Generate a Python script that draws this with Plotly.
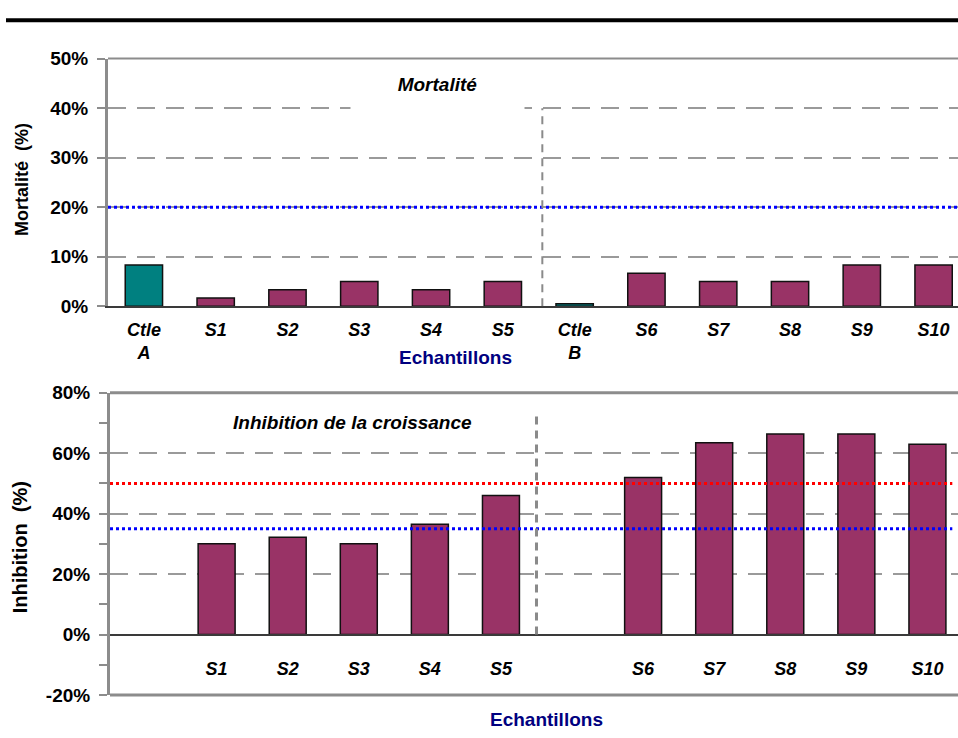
import plotly.graph_objects as go

# ---- data -------------------------------------------------------------
categories = ["Ctle A", "S1", "S2", "S3", "S4", "S5",
              "Ctle B", "S6", "S7", "S8", "S9", "S10"]
mortality_tick_labels = ["Ctle<br>A", "S1", "S2", "S3", "S4", "S5",
                         "Ctle<br>B", "S6", "S7", "S8", "S9", "S10"]
inhibition_tick_labels = ["", "S1", "S2", "S3", "S4", "S5",
                          "", "S6", "S7", "S8", "S9", "S10"]
mortality = [8.33, 1.67, 3.33, 5.0, 3.33, 5.0, 0.5, 6.67, 5.0, 5.0, 8.33, 8.33]
inhibition = [None, 30.0, 32.2, 30.0, 36.5, 46.0, None, 52.0, 63.5, 66.4, 66.4, 63.0]
is_control = [True, False, False, False, False, False,
              True, False, False, False, False, False]

mortality_ticks = [0, 10, 20, 30, 40, 50]
mortality_tick_text = ["0%", "10%", "20%", "30%", "40%", "50%"]
inhibition_ticks = [-20, 0, 20, 40, 60, 80]
inhibition_tick_text = ["-20%", "0%", "20%", "40%", "60%", "80%"]
mortality_threshold = 20
inhibition_thresholds = [(50, "#ff0000"), (35, "#0000ff")]

# ---- styling ----------------------------------------------------------
FONT = "Liberation Sans, Arial, sans-serif"
BAR = "#993366"
CTRL = "#008080"
GRID = "#9a9a9a"
AXIS = "#8c8c8c"
W, H = 958, 738

x_idx = list(range(len(categories)))
colors = [CTRL if c else BAR for c in is_control]


def py(px):
    """pixel row -> paper y"""
    return 1 - px / H


def pxx(px):
    return px / W


top_dom = [py(305), py(50)]
bot_dom = [py(705), py(394)]

fig = go.Figure()

fig.add_trace(go.Bar(
    x=x_idx, y=mortality, width=0.52,
    marker=dict(color=colors, line=dict(color="#111111", width=1.5)),
    xaxis="x", yaxis="y", showlegend=False, hoverinfo="skip"))

fig.add_trace(go.Bar(
    x=x_idx, y=inhibition, width=0.52,
    marker=dict(color=BAR, line=dict(color="#111111", width=1.5)),
    xaxis="x2", yaxis="y2", showlegend=False, hoverinfo="skip"))

tickfont_y = dict(family=FONT, size=19, color="#000000", weight="bold")
tickfont_x = dict(family=FONT, size=18, color="#000000", weight="bold", style="italic")

zero_pos = bot_dom[0] + (0 - (-20)) / 100 * (bot_dom[1] - bot_dom[0])

fig.update_layout(
    width=W, height=H,
    margin=dict(l=0, r=0, t=0, b=0),
    paper_bgcolor="white", plot_bgcolor="white",
    bargap=0.48,
    xaxis=dict(domain=[pxx(108), 1], range=[-0.5, 11.34],
               tickvals=x_idx, ticktext=mortality_tick_labels,
               tickfont=tickfont_x, showgrid=False, zeroline=False,
               showline=True, linecolor="#3a3a3a", linewidth=2,
               ticks="", ticklabelstandoff=6,
               anchor="y", fixedrange=True),
    yaxis=dict(domain=top_dom, range=[0, 50],
               tickvals=mortality_ticks, ticktext=mortality_tick_text,
               tickfont=tickfont_y, showgrid=True, gridcolor=GRID,
               gridwidth=2, griddash="18px,11px", zeroline=False,
               showline=True, linecolor=AXIS, linewidth=3,
               ticks="outside", ticklen=8, tickwidth=2, tickcolor=AXIS,
               ticklabelstandoff=5, anchor="x", fixedrange=True),
    xaxis2=dict(domain=[pxx(110), 1], range=[-0.5, 11.43],
                tickvals=x_idx, ticktext=inhibition_tick_labels,
                tickfont=tickfont_x, showgrid=False, zeroline=False,
                showline=True, linecolor="#3a3a3a", linewidth=2,
                ticks="", anchor="free", position=zero_pos,
                ticklabelstandoff=18, fixedrange=True),
    yaxis2=dict(domain=bot_dom, range=[-20, 80],
                tickvals=inhibition_ticks, ticktext=inhibition_tick_text,
                tickfont=tickfont_y, showgrid=True, gridcolor=GRID,
                gridwidth=2, griddash="18px,11px", zeroline=False,
                showline=True, linecolor=AXIS, linewidth=3,
                ticks="outside", ticklen=8, tickwidth=2, tickcolor=AXIS,
                minor=dict(dtick=10, ticks="outside", ticklen=8,
                           tickwidth=2, tickcolor=AXIS, showgrid=False),
                ticklabelstandoff=5, anchor="x2", fixedrange=True),
)

shapes = []
# heavy rule across the top of the page
shapes.append(dict(type="line", xref="paper", yref="paper",
                   x0=pxx(6), x1=1, y0=py(10.5), y1=py(10.5),
                   line=dict(color="#000000", width=4)))
# frame lines of both panels
shapes.append(dict(type="line", xref="x domain", yref="y domain",
                   x0=0, x1=1, y0=1, y1=1, line=dict(color=AXIS, width=2)))
shapes.append(dict(type="line", xref="x2 domain", yref="y2 domain",
                   x0=0, x1=1, y0=1, y1=1, line=dict(color=AXIS, width=3)))
shapes.append(dict(type="line", xref="x2 domain", yref="y2 domain",
                   x0=0, x1=1, y0=0, y1=0, line=dict(color=AXIS, width=3)))
# threshold lines
shapes.append(dict(type="line", xref="x domain", yref="y",
                   x0=0, x1=1, y0=mortality_threshold, y1=mortality_threshold,
                   line=dict(color="#0000ff", width=3, dash="3px,3px")))
for val, col in inhibition_thresholds:
    shapes.append(dict(type="line", xref="x2", yref="y2",
                       x0=-0.5, x1=11.35, y0=val, y1=val,
                       line=dict(color=col, width=3, dash="3px,3px")))
# separators between the two sample series
shapes.append(dict(type="line", xref="x", yref="y",
                   x0=5.55, x1=5.55, y0=0, y1=40,
                   line=dict(color="#8a8a8a", width=2, dash="8px,6px")))
shapes.append(dict(type="line", xref="x2", yref="y2",
                   x0=5.5, x1=5.5, y0=0, y1=74,
                   line=dict(color="#8a8a8a", width=3, dash="8px,6px")))
fig.update_layout(shapes=shapes)

annotations = [
    dict(text="<b><i>Mortalité</i></b><br> ", xref="paper", yref="paper",
         x=pxx(437), y=py(90), xanchor="center", yanchor="middle",
         showarrow=False, bgcolor="white", width=171,
         font=dict(family=FONT, size=19, color="#000000")),
    dict(text="<b><i>Inhibition de la croissance</i></b>", xref="paper", yref="paper",
         x=pxx(352), y=py(425), xanchor="center", yanchor="middle",
         showarrow=False, font=dict(family=FONT, size=19, color="#000000")),
    dict(text="<b>Echantillons</b>", xref="paper", yref="paper",
         x=pxx(455), y=py(358), xanchor="center", yanchor="middle",
         showarrow=False, font=dict(family=FONT, size=19, color="#000080")),
    dict(text="<b>Echantillons</b>", xref="paper", yref="paper",
         x=pxx(546), y=py(730), xanchor="center", yanchor="middle",
         showarrow=False, font=dict(family=FONT, size=19, color="#000080")),
    dict(text="<b>Mortalité  (%)</b>", xref="paper", yref="paper",
         x=pxx(22), y=py(175), xanchor="center", yanchor="middle",
         textangle=-90, showarrow=False,
         font=dict(family=FONT, size=18, color="#000000")),
    dict(text="<b>Inhibition  (%)</b>", xref="paper", yref="paper",
         x=pxx(20), y=py(553), xanchor="center", yanchor="middle",
         textangle=-90, showarrow=False,
         font=dict(family=FONT, size=20, color="#000000")),
]
fig.update_layout(annotations=annotations)

fig.write_html("out.html")
